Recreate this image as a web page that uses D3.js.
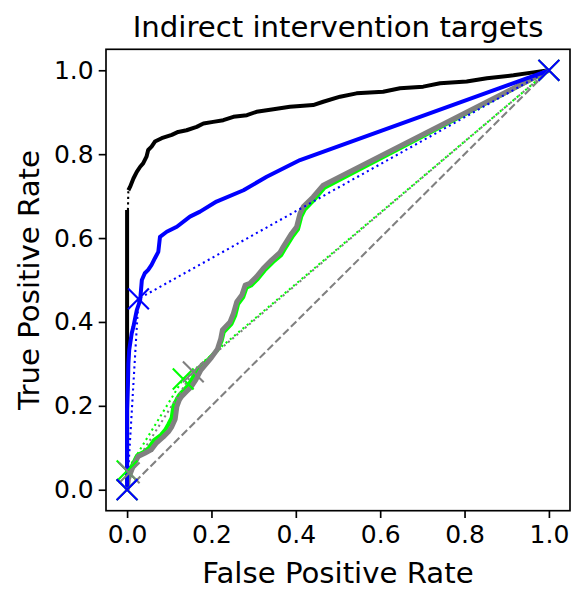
<!DOCTYPE html>
<html>
<head>
<meta charset="utf-8">
<script src="https://cdn.jsdelivr.net/npm/d3@7"></script>
<style>
    body { margin: 0; background: #fff; }
    text { font-family: "DejaVu Sans", sans-serif; fill: #000; }
</style>
</head>
<body>
<div class="rocChart"></div>
<script>

// ROC points, [false positive rate, true positive rate]; null = gap in the curve
var blackRoc = [[0, 0], [0, 0.667], null, [0.003, 0.714], [0.007, 0.722], [0.015, 0.742], [0.023, 0.758],
    [0.031, 0.770], [0.038, 0.778], [0.046, 0.794], [0.050, 0.810], [0.058, 0.818], [0.066, 0.830],
    [0.082, 0.838], [0.106, 0.846], [0.121, 0.853], [0.141, 0.857], [0.165, 0.865], [0.181, 0.873],
    [0.204, 0.877], [0.228, 0.881], [0.252, 0.889], [0.284, 0.893], [0.307, 0.901], [0.347, 0.907],
    [0.386, 0.913], [0.410, 0.915], [0.441, 0.917], [0.465, 0.925], [0.505, 0.937], [0.544, 0.945],
    [0.607, 0.949], [0.647, 0.957], [0.702, 0.961], [0.742, 0.969], [0.805, 0.973], [0.853, 0.981],
    [0.916, 0.988], [0.963, 0.995], [1, 1]];
var blackGap = [[0.002, 0.667], [0.003, 0.716]];

var blueRoc = [[0, 0], [0, 0.19], [0.002, 0.25], [0.003, 0.30], [0.005, 0.333], [0.011, 0.373],
    [0.015, 0.389], [0.023, 0.428], [0.031, 0.452], [0.035, 0.500], [0.042, 0.516], [0.050, 0.524],
    [0.058, 0.536], [0.066, 0.552], [0.074, 0.567], [0.078, 0.603], [0.094, 0.615], [0.118, 0.627],
    [0.149, 0.651], [0.173, 0.663], [0.212, 0.687], [0.276, 0.714], [0.331, 0.746], [0.410, 0.786], [1, 1]];
var bluePoints = [[0, 0], [0.027, 0.455], [1, 1]];

var greenRoc = [[0, 0], [0.002, 0.03], [0.012, 0.058], [0.024, 0.082], [0.040, 0.090], [0.052, 0.100],
    [0.064, 0.118], [0.080, 0.130], [0.090, 0.142], [0.098, 0.156], [0.106, 0.172], [0.110, 0.200],
    [0.118, 0.216], [0.124, 0.226], [0.135, 0.238], [0.146, 0.250], [0.155, 0.266], [0.170, 0.288],
    [0.198, 0.316], [0.214, 0.333], [0.224, 0.355], [0.229, 0.376], [0.247, 0.395], [0.256, 0.415],
    [0.263, 0.443], [0.275, 0.459], [0.283, 0.482], [0.294, 0.487], [0.310, 0.503], [0.326, 0.523],
    [0.346, 0.543], [0.365, 0.559], [0.373, 0.573], [0.393, 0.605], [0.405, 0.621], [0.413, 0.652],
    [0.421, 0.668], [0.444, 0.692], [0.468, 0.720], [1, 1]];
var greenPoints = [[0, 0], [0.000, 0.045], [0.133, 0.264], [1, 1]];

var grayRoc = [[0, 0], [0.003, 0.025], [0.014, 0.055], [0.026, 0.079], [0.042, 0.087], [0.057, 0.095],
    [0.070, 0.112], [0.086, 0.126], [0.098, 0.138], [0.106, 0.150], [0.114, 0.168], [0.118, 0.198],
    [0.124, 0.214], [0.129, 0.222], [0.141, 0.234], [0.152, 0.245], [0.163, 0.262], [0.175, 0.285],
    [0.200, 0.315], [0.214, 0.335], [0.222, 0.360], [0.226, 0.381], [0.244, 0.400], [0.252, 0.420],
    [0.260, 0.448], [0.272, 0.464], [0.280, 0.488], [0.291, 0.492], [0.307, 0.508], [0.323, 0.528],
    [0.343, 0.548], [0.362, 0.565], [0.370, 0.579], [0.390, 0.611], [0.402, 0.627], [0.410, 0.659],
    [0.418, 0.675], [0.441, 0.698], [0.465, 0.726], [1, 1]];
var grayPoints = [[0, 0], [0.005, 0.040], [0.157, 0.281], [1, 1]];

var chance = [[0, 0], [1, 1]];
var tickValues = [0, 0.2, 0.4, 0.6, 0.8, 1.0];

var box = { left: 106, right: 570, top: 49.3, bottom: 510.7 };

var svg = d3.select(".rocChart").append("svg")
    .attr("width", 586)
    .attr("height", 601);

var x = d3.scaleLinear().domain([-0.05, 1.05]).range([box.left, box.right]);
var y = d3.scaleLinear().domain([-0.05, 1.05]).range([box.bottom, box.top]);

var line = d3.line()
    .defined(function (d) { return d != null; })
    .x(function (d) { return x(d[0]); })
    .y(function (d) { return y(d[1]); });

var plot = svg.append("g");

function addLine(data, color, width, dash) {
    plot.append("path")
        .datum(data)
        .attr("d", line)
        .attr("fill", "none")
        .attr("stroke", color)
        .attr("stroke-width", width)
        .attr("stroke-dasharray", dash || null)
        .attr("stroke-linejoin", "round");
}

function addMarkers(data, color) {
    var s = 10.4;
    plot.selectAll(null)
        .data(data)
        .enter().append("path")
        .attr("d", function (d) {
            var cx = x(d[0]), cy = y(d[1]);
            return "M" + (cx - s) + "," + (cy - s) + "L" + (cx + s) + "," + (cy + s) +
                "M" + (cx - s) + "," + (cy + s) + "L" + (cx + s) + "," + (cy - s);
        })
        .attr("stroke", color)
        .attr("stroke-width", 2.08)
        .attr("fill", "none");
}

var dotted = "2.08,3.44";

addLine(chance, "#808080", 2.08, "7.7,3.3");
addLine(blackRoc, "#000", 4.0);
addLine(blackGap, "#000", 2.08, dotted);
addLine(greenRoc, "#00ff00", 4.17);
addLine(greenPoints, "#00ff00", 2.08, dotted);
addLine(grayRoc, "#808080", 5.0);
addLine(grayPoints, "#808080", 2.08, dotted);
addLine(blueRoc, "#0000ff", 4.0);
addLine(bluePoints, "#0000ff", 2.08, dotted);
addMarkers(greenPoints, "#00ff00");
addMarkers(grayPoints, "#808080");
addMarkers(bluePoints, "#0000ff");

// axes
svg.append("g")
    .attr("transform", "translate(0," + box.bottom + ")")
    .call(d3.axisBottom(x).tickValues(tickValues).tickFormat(d3.format(".1f")).tickSizeInner(7.3).tickSizeOuter(0).tickPadding(7))
    .call(function (g) {
        g.select(".domain").remove();
        g.selectAll("line").attr("stroke", "#000").attr("stroke-width", 1.67);
        g.selectAll("text").attr("font-size", 25).attr("font-family", "DejaVu Sans").attr("fill", "#000");
    });

svg.append("g")
    .attr("transform", "translate(" + box.left + ",0)")
    .call(d3.axisLeft(y).tickValues(tickValues).tickFormat(d3.format(".1f")).tickSizeInner(7.3).tickSizeOuter(0).tickPadding(5))
    .call(function (g) {
        g.select(".domain").remove();
        g.selectAll("line").attr("stroke", "#000").attr("stroke-width", 1.67);
        g.selectAll("text").attr("font-size", 25).attr("font-family", "DejaVu Sans").attr("fill", "#000");
    });

svg.append("rect")
    .attr("x", box.left)
    .attr("y", box.top)
    .attr("width", box.right - box.left)
    .attr("height", box.bottom - box.top)
    .attr("fill", "none")
    .attr("stroke", "#000")
    .attr("stroke-width", 1.67);

svg.append("text")
    .attr("x", (box.left + box.right) / 2)
    .attr("y", 37)
    .attr("text-anchor", "middle")
    .attr("font-size", 29.2)
    .text("Indirect intervention targets");

svg.append("text")
    .attr("x", (box.left + box.right) / 2)
    .attr("y", 583)
    .attr("text-anchor", "middle")
    .attr("font-size", 29.2)
    .text("False Positive Rate");

svg.append("text")
    .attr("transform", "translate(39," + (box.top + box.bottom) / 2 + ") rotate(-90)")
    .attr("text-anchor", "middle")
    .attr("font-size", 29.2)
    .text("True Positive Rate");

</script>
</body>
</html>
